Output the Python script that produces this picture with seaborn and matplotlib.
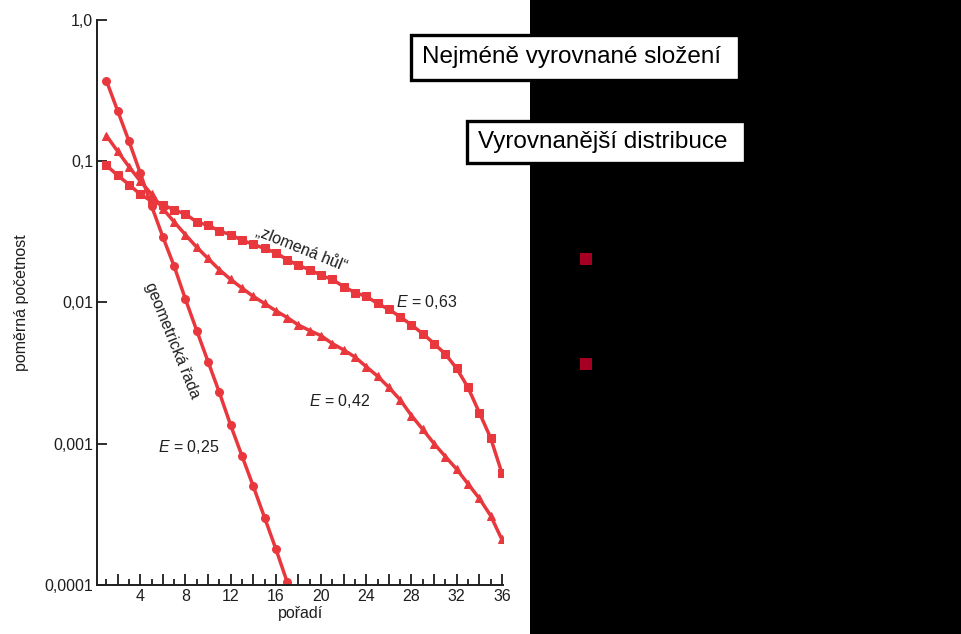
import numpy as np
import pandas as pd
import matplotlib
matplotlib.use('Agg')
import matplotlib.pyplot as plt
from matplotlib.patches import Rectangle
from matplotlib.ticker import NullLocator
import seaborn as sns

# Values: relative abundance for each species rank
geo_rank = list(range(1, 18))
geo_vals = [0.37, 0.226, 0.138, 0.082, 0.048, 0.029, 0.018, 0.0105, 0.0063, 0.0038,
            0.0023, 0.00135, 0.00082, 0.0005, 0.0003, 0.00018, 0.000105]

lognorm_rank = list(range(1, 37))
lognorm_vals = [0.151, 0.117, 0.091, 0.072, 0.058, 0.046, 0.037, 0.030, 0.0245, 0.0204,
                0.017, 0.0145, 0.0126, 0.011, 0.0098, 0.0087, 0.0078, 0.0069, 0.0063, 0.0058,
                0.0051, 0.0046, 0.0041, 0.0035, 0.0030, 0.0025, 0.00204, 0.00158, 0.00126, 0.0010,
                0.00081, 0.00066, 0.00052, 0.00041, 0.00031, 0.00021]

stick_rank = list(range(1, 37))
stick_vals = [0.093, 0.079, 0.068, 0.058, 0.052, 0.049, 0.045, 0.042, 0.037, 0.035,
              0.032, 0.030, 0.0275, 0.0257, 0.024, 0.0224, 0.020, 0.0182, 0.017, 0.0155,
              0.0145, 0.0129, 0.0117, 0.011, 0.0098, 0.0089, 0.0079, 0.0069, 0.006, 0.0051,
              0.0043, 0.0034, 0.0025, 0.00166, 0.0011, 0.00062]

y_ticks = [1e-4, 1e-3, 1e-2, 1e-1, 1.0]
y_labels = ['0,0001', '0,001', '0,01', '0,1', '1,0']

RED = '#e8383d'
INK = '#1e1e1e'

sns.set_style('ticks')
plt.rcParams['font.family'] = ['Liberation Sans', 'DejaVu Sans']
plt.rcParams['mathtext.fontset'] = 'custom'
plt.rcParams['mathtext.rm'] = 'Liberation Sans'
plt.rcParams['mathtext.it'] = 'Liberation Sans:italic'

df = pd.concat([
    pd.DataFrame({'rank': geo_rank, 'value': geo_vals, 'series': 'geom'}),
    pd.DataFrame({'rank': lognorm_rank, 'value': lognorm_vals, 'series': 'lognorm'}),
    pd.DataFrame({'rank': stick_rank, 'value': stick_vals, 'series': 'stick'}),
], ignore_index=True)

W, H = 961, 634
fig = plt.figure(figsize=(W / 100, H / 100), dpi=100, facecolor='black')
# scanned page area on the left of the slide
fig.add_artist(Rectangle((0, 0), 530 / W, 1, transform=fig.transFigure,
                         facecolor='white', edgecolor='none', zorder=0))

ax = fig.add_axes([97.3 / W, (H - 585) / H, (503 - 97.3) / W, (585 - 19.5) / H])
ax.set_facecolor('none')
ax.set_yscale('log')

sns.lineplot(data=df, x='rank', y='value', style='series',
             markers={'geom': 'o', 'lognorm': '^', 'stick': 's'}, dashes=False,
             color=RED, linewidth=2.5, markersize=5.7, markeredgecolor=RED,
             estimator=None, sort=False, legend=False, ax=ax)

ax.set_xlim(0.2, 36.1)
ax.set_ylim(1e-4, 1.0)
ax.set_yticks(y_ticks)
ax.set_yticklabels(y_labels)
ax.yaxis.set_minor_locator(NullLocator())
xt = list(range(2, 37, 2))
ax.set_xticks(xt)
ax.set_xticklabels([str(v) if v % 4 == 0 else '' for v in xt])
ax.set_xticks(list(range(1, 37, 2)), minor=True)

ax.tick_params(axis='y', which='major', direction='in', length=7, width=1.3,
               pad=3, labelsize=11.5, colors=INK)
ax.tick_params(axis='x', which='major', direction='in', length=8, width=1.3,
               pad=3, labelsize=11.5, colors=INK)
ax.tick_params(axis='x', which='minor', direction='in', length=4, width=1.3, colors=INK)

for s in ['top', 'right']:
    ax.spines[s].set_visible(False)
for s in ['left', 'bottom']:
    ax.spines[s].set_color(INK)
    ax.spines[s].set_linewidth(1.4)

ax.set_xlabel('pořadí', fontsize=11.5, color=INK, labelpad=1)
ax.set_ylabel('poměrná početnost', fontsize=11.5, color=INK)
ax.yaxis.set_label_coords(-0.168, 0.5)

# curve labels
ax.text(18.3, 0.0238, '„zlomená hůl“', rotation=-22, rotation_mode='anchor',
        ha='center', va='center', fontsize=11.5, color=INK)
ax.text(6.8, 0.0054, 'geometrická řada', rotation=-68, rotation_mode='anchor',
        ha='center', va='center', fontsize=11.5, color=INK)
ax.text(29.3, 0.0100, '$E$ = 0,63', ha='center', va='center', fontsize=11.5, color=INK)
ax.text(21.6, 0.0020, '$E$ = 0,42', ha='center', va='center', fontsize=11.5, color=INK)
ax.text(8.3, 0.00095, '$E$ = 0,25', ha='center', va='center', fontsize=11.5, color=INK)

# boxed captions on the slide
boxes = [((410.7, 35, 739, 80), 422, 'Nejméně vyrovnané složení'),
         ((466.5, 121, 745, 163), 478, 'Vyrovnanější distribuce')]
for (x0, y0, x1, y1), tx, label in boxes:
    fig.add_artist(Rectangle((x0 / W, 1 - y1 / H), (x1 - x0) / W, (y1 - y0) / H,
                             transform=fig.transFigure, facecolor='white',
                             edgecolor='black', linewidth=2.4, zorder=5))
    fig.text(tx / W, 1 - (y0 + y1) / 2 / H, label, ha='left', va='center',
             fontsize=17.5, color='black', zorder=6)

# bullet squares
for cy in [259, 364]:
    fig.add_artist(Rectangle((580 / W, 1 - (cy + 6) / H), 12 / W, 12 / H,
                             transform=fig.transFigure, facecolor='#a50021',
                             edgecolor='none', zorder=5))

fig.savefig('out.png', dpi=100, facecolor='black')
